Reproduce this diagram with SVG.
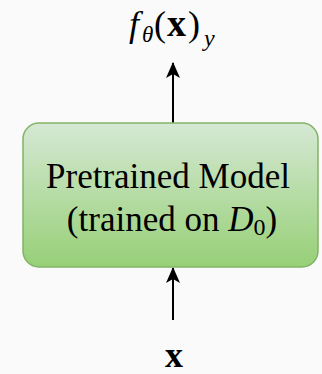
<svg xmlns="http://www.w3.org/2000/svg" width="322" height="374" viewBox="0 0 322 374">
<defs>
<linearGradient id="g" x1="0" y1="0" x2="0" y2="1">
<stop offset="0" stop-color="#d5e8d4"/>
<stop offset="1" stop-color="#97d077"/>
</linearGradient>
<marker id="arr" viewBox="0 0 16 14" refX="15" refY="7" markerWidth="16" markerHeight="14" markerUnits="userSpaceOnUse" orient="auto">
<path d="M0,0 L16,7 L0,14 L4,7 Z" fill="#000"/>
</marker>
<style>
.edge{stroke:#000;stroke-width:2;fill:none;marker-end:url(#arr)}
</style>
</defs>
<rect width="322" height="374" fill="#fafafa"/>
<g id="connectors">
<line class="edge" x1="173" y1="123" x2="173" y2="63"/>
<line class="edge" x1="173" y1="320" x2="173" y2="268"/>
</g>
<g id="model">
<rect x="23" y="123" width="295" height="144" rx="16" fill="url(#g)" stroke="#82b366" stroke-width="1.5"/>
<text x="168" y="188" font-size="35" text-anchor="middle" font-family="Liberation Serif">Pretrained Model</text>
<text x="172" y="231" font-size="35" text-anchor="middle" font-family="Liberation Serif">(trained on <tspan font-style="italic">D</tspan><tspan font-size="24" dy="4">0</tspan><tspan dy="-4">)</tspan></text>
</g>
<g id="output">
<text y="36" font-size="36" font-family="Liberation Serif"><tspan x="129" font-style="italic">f</tspan><tspan x="142" font-style="italic" font-size="23" dy="6">θ</tspan><tspan x="154" dy="-6">(</tspan><tspan x="167" font-weight="bold" font-size="38">x</tspan><tspan x="188">)</tspan><tspan x="204" font-style="italic" font-size="24" dy="10">y</tspan></text>
</g>
<g id="input">
<text x="174" y="367" font-size="36" font-weight="bold" text-anchor="middle" font-family="Liberation Serif">x</text>
</g>
</svg>
